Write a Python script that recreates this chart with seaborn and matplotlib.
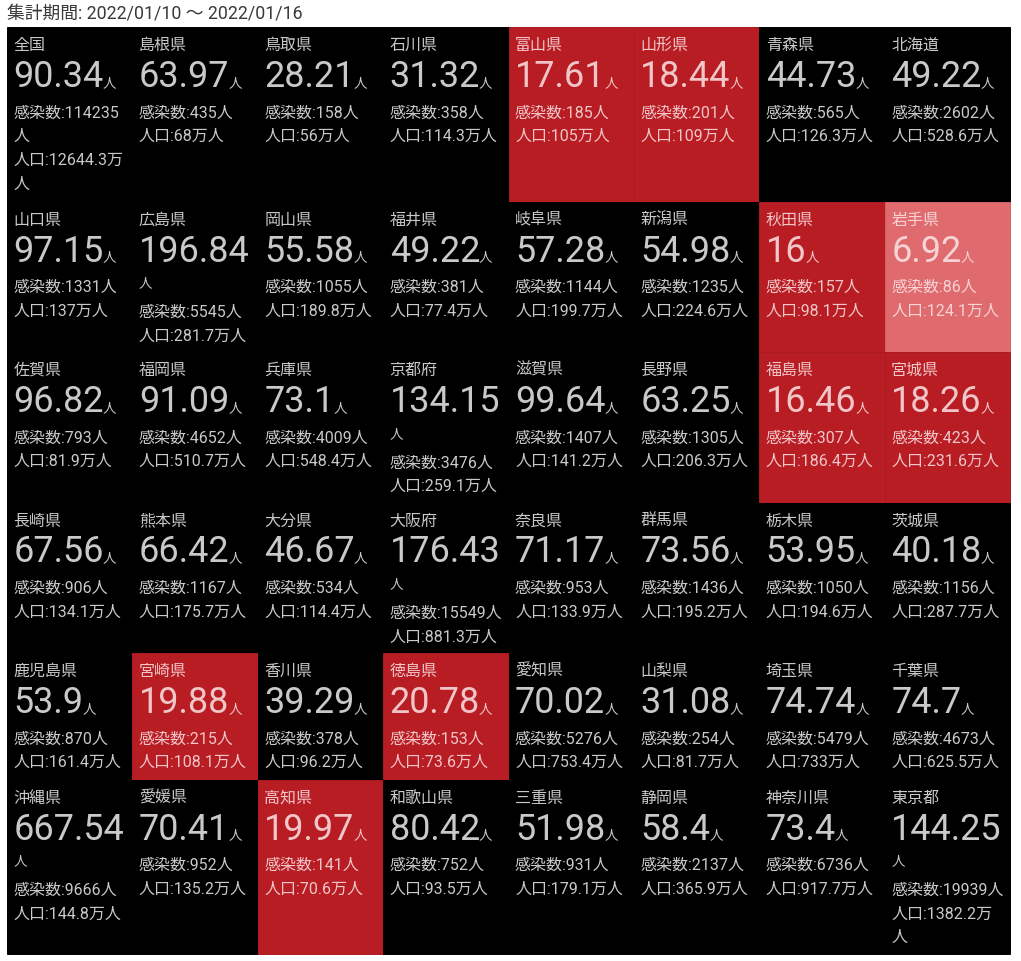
import matplotlib
matplotlib.use("Agg")
import matplotlib.pyplot as plt
from matplotlib.patches import Rectangle
import seaborn as sns

# ---- data (weekly new cases per 100k people, 2022/01/10 - 01/16) ----
period_label = "集計期間: 2022/01/10 ～ 2022/01/16"
n_cols = 8

names = [
    "全国", "島根県", "鳥取県", "石川県", "富山県", "山形県", "青森県", "北海道",
    "山口県", "広島県", "岡山県", "福井県", "岐阜県", "新潟県", "秋田県", "岩手県",
    "佐賀県", "福岡県", "兵庫県", "京都府", "滋賀県", "長野県", "福島県", "宮城県",
    "長崎県", "熊本県", "大分県", "大阪府", "奈良県", "群馬県", "栃木県", "茨城県",
    "鹿児島県", "宮崎県", "香川県", "徳島県", "愛知県", "山梨県", "埼玉県", "千葉県",
    "沖縄県", "愛媛県", "高知県", "和歌山県", "三重県", "静岡県", "神奈川県", "東京都",
]
per_100k = [
    90.34, 63.97, 28.21, 31.32, 17.61, 18.44, 44.73, 49.22,
    97.15, 196.84, 55.58, 49.22, 57.28, 54.98, 16, 6.92,
    96.82, 91.09, 73.1, 134.15, 99.64, 63.25, 16.46, 18.26,
    67.56, 66.42, 46.67, 176.43, 71.17, 73.56, 53.95, 40.18,
    53.9, 19.88, 39.29, 20.78, 70.02, 31.08, 74.74, 74.7,
    667.54, 70.41, 19.97, 80.42, 51.98, 58.4, 73.4, 144.25,
]
cases = [
    114235, 435, 158, 358, 185, 201, 565, 2602,
    1331, 5545, 1055, 381, 1144, 1235, 157, 86,
    793, 4652, 4009, 3476, 1407, 1305, 307, 423,
    906, 1167, 534, 15549, 953, 1436, 1050, 1156,
    870, 215, 378, 153, 5276, 254, 5479, 4673,
    9666, 952, 141, 752, 931, 2137, 6736, 19939,
]
population_man = [  # in 万人
    12644.3, 68, 56, 114.3, 105, 109, 126.3, 528.6,
    137, 281.7, 189.8, 77.4, 199.7, 224.6, 98.1, 124.1,
    81.9, 510.7, 548.4, 259.1, 141.2, 206.3, 186.4, 231.6,
    134.1, 175.7, 114.4, 881.3, 133.9, 195.2, 194.6, 287.7,
    161.4, 108.1, 96.2, 73.6, 753.4, 81.7, 733, 625.5,
    144.8, 135.2, 70.6, 93.5, 179.1, 365.9, 917.7, 1382.2,
]

# colour bands: very low / low / everything else
palette = sns.color_palette(["#e06b6f", "#b81d24", "#000000"])
edge_palette = sns.color_palette(["#d46064", "#ac1a21", "#000000"])


def band(v):
    if v < 10:
        return 0
    if v < 25:
        return 1
    return 2


sns.set_theme(style="white")
plt.rcParams["font.family"] = ["Roboto", "Noto Sans CJK JP", "DejaVu Sans"]

W, H = 1021, 961
fig = plt.figure(figsize=(W / 100, H / 100), dpi=100)
fig.patch.set_facecolor("white")
ax = fig.add_axes([0, 0, 1, 1])
ax.set_xlim(0, W)
ax.set_ylim(H, 0)
ax.axis("off")
renderer = fig.canvas.get_renderer()


def pt(px):
    return px * 0.72


NAME_FS, NUM_FS, UNIT_FS, DET_FS = pt(16), pt(36), pt(13.5), pt(16)
left, top, right = 7, 27, 1010
col_w = (right - left) / n_cols
pad = 6.5
avail = 115
line_h = 23.7


def text_w(s, size):
    t = ax.text(0, 0, s, fontsize=size)
    w = t.get_window_extent(renderer).width
    t.remove()
    return w


def fmt(v):
    return f"{v:g}"


# work out wrapping for each tile
tiles = []
for i, name in enumerate(names):
    num = fmt(per_100k[i])
    num_w = text_w(num, NUM_FS)
    num_wrap = num_w + 2 + text_w("人", UNIT_FS) > avail
    details = []
    for s in (f"感染数:{cases[i]}人", f"人口:{fmt(population_man[i])}万人"):
        if text_w(s, DET_FS) > avail:
            details += [s[:-1], s[-1]]
        else:
            details.append(s)
    tiles.append(dict(name=name, num=num, num_w=num_w, num_wrap=num_wrap,
                      details=details, extra=int(num_wrap) + len(details) - 2))

n_rows = len(names) // n_cols
row_h = []
for r in range(n_rows):
    extra = max(t["extra"] for t in tiles[r * n_cols:(r + 1) * n_cols])
    row_h.append(126.5 + 24 * extra)

ax.text(left, 18, period_label, fontsize=pt(17.8), color="#3a3a3a", va="baseline")

y0 = top
for r in range(n_rows):
    h = row_h[r]
    for c in range(n_cols):
        i = r * n_cols + c
        t = tiles[i]
        b = band(per_100k[i])
        x0 = left + c * col_w
        ax.add_patch(Rectangle((x0, y0), col_w, h, facecolor=palette[b],
                               edgecolor=edge_palette[b], lw=0.7))
        tc = "#c9c9c9" if b == 2 else ("#f6d3d4" if b == 0 else "#f1c6c8")
        tx = x0 + pad
        ax.text(tx, y0 + 23, t["name"], fontsize=NAME_FS, color=tc, va="baseline")
        ax.text(tx, y0 + 60, t["num"], fontsize=NUM_FS, color=tc, va="baseline")
        shift = 0
        if t["num_wrap"]:
            ax.text(tx, y0 + 86, "人", fontsize=UNIT_FS, color=tc, va="baseline")
            shift = 25
        else:
            ax.text(tx + t["num_w"] - 1, y0 + 60, "人", fontsize=UNIT_FS,
                    color=tc, va="baseline")
        for k, s in enumerate(t["details"]):
            ax.text(tx, y0 + 90.5 + shift + line_h * k, s, fontsize=DET_FS,
                    color=tc, va="baseline")
    y0 += h

fig.savefig("out.png", dpi=100, facecolor="white")
